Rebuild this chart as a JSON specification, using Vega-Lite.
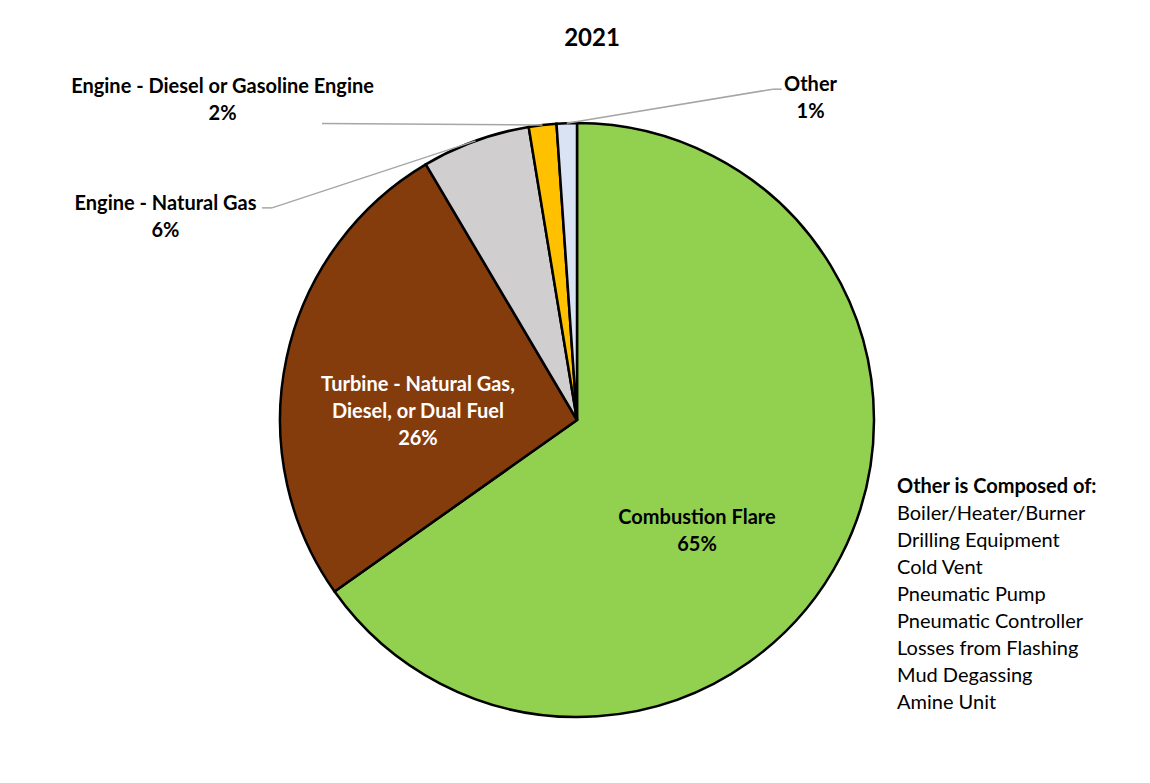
{
  "$schema": "https://vega.github.io/schema/vega-lite/v6.json",
  "width": 594,
  "height": 594,
  "autosize": {"type": "none"},
  "padding": {"left": 280, "top": 123, "right": 276, "bottom": 66},
  "background": "white",
  "config": {"view": {"stroke": null}, "font": "Lato"},
  "title": {"text": "2021", "fontSize": 24, "font": "Lato", "fontWeight": "bold", "color": "black", "anchor": "middle", "offset": 24, "dx": 15},
  "layer": [
    {
      "data": {"values": [
        {"source": "Combustion Flare", "label": "Combustion Flare", "value": 65.2},
        {"source": "Turbine - Natural Gas, Diesel, or Dual Fuel", "label": "Turbine - Natural Gas,\nDiesel, or Dual Fuel", "value": 26.3},
        {"source": "Engine - Natural Gas", "label": "Engine - Natural Gas", "value": 5.9},
        {"source": "Engine - Diesel or Gasoline Engine", "label": "Engine - Diesel or Gasoline Engine", "value": 1.5},
        {"source": "Other", "label": "Other", "value": 1.1}
      ]},
      "transform": [
        {"joinaggregate": [{"op": "sum", "field": "value", "as": "total"}]},
        {"window": [{"op": "sum", "field": "value", "as": "cum"}], "sort": [{"field": "value", "order": "descending"}], "frame": [null, 0]},
        {"calculate": "2 * PI * (datum.cum - datum.value / 2) / datum.total", "as": "mid"},
        {"calculate": "sin(datum.mid)", "as": "px"},
        {"calculate": "cos(datum.mid)", "as": "py"},
        {"calculate": "datum.label + '\\n' + round(datum.value) + '%'", "as": "text"}
      ],
      "layer": [
        {
          "mark": {"type": "arc", "stroke": "black", "strokeWidth": 2.5},
          "encoding": {
            "theta": {"field": "value", "type": "quantitative", "stack": true},
            "order": {"field": "value", "type": "quantitative", "sort": "descending"},
            "color": {"field": "source", "type": "nominal", "legend": null,
              "scale": {"domain": ["Combustion Flare", "Turbine - Natural Gas, Diesel, or Dual Fuel", "Engine - Natural Gas", "Engine - Diesel or Gasoline Engine", "Other"],
                        "range": ["#92D050", "#843C0C", "#D0CECE", "#FFC000", "#DAE3F3"]}}
          }
        },
        {
          "transform": [{"filter": "datum.source === 'Engine - Natural Gas'"}],
          "mark": {"type": "rule", "color": "#A6A6A6", "strokeWidth": 1.5, "x2Offset": -203.5, "y2Offset": 67},
          "encoding": {
            "x": {"field": "px", "type": "quantitative", "scale": {"domain": [-1, 1], "nice": false}, "axis": null},
            "y": {"field": "py", "type": "quantitative", "scale": {"domain": [-1, 1], "nice": false}, "axis": null},
            "x2": {"field": "px"}, "y2": {"field": "py"}
          }
        },
        {
          "transform": [{"filter": "datum.source === 'Engine - Natural Gas'"}],
          "mark": {"type": "rule", "color": "#A6A6A6", "strokeWidth": 1.5, "xOffset": -203.5, "yOffset": 67, "x2Offset": -213.5, "y2Offset": 67},
          "encoding": {
            "x": {"field": "px", "type": "quantitative", "scale": {"domain": [-1, 1], "nice": false}, "axis": null},
            "y": {"field": "py", "type": "quantitative", "scale": {"domain": [-1, 1], "nice": false}, "axis": null},
            "x2": {"field": "px"}, "y2": {"field": "py"}
          }
        },
        {
          "transform": [{"filter": "datum.source === 'Engine - Diesel or Gasoline Engine'"}],
          "mark": {"type": "rule", "color": "#A6A6A6", "strokeWidth": 1.5, "x2Offset": -220.6, "y2Offset": -1.5},
          "encoding": {
            "x": {"field": "px", "type": "quantitative", "scale": {"domain": [-1, 1], "nice": false}, "axis": null},
            "y": {"field": "py", "type": "quantitative", "scale": {"domain": [-1, 1], "nice": false}, "axis": null},
            "x2": {"field": "px"}, "y2": {"field": "py"}
          }
        },
        {
          "transform": [{"filter": "datum.source === 'Other'"}],
          "mark": {"type": "rule", "color": "#A6A6A6", "strokeWidth": 1.5, "x2Offset": 206, "y2Offset": -34},
          "encoding": {
            "x": {"field": "px", "type": "quantitative", "scale": {"domain": [-1, 1], "nice": false}, "axis": null},
            "y": {"field": "py", "type": "quantitative", "scale": {"domain": [-1, 1], "nice": false}, "axis": null},
            "x2": {"field": "px"}, "y2": {"field": "py"}
          }
        },
        {
          "transform": [{"filter": "datum.source === 'Other'"}],
          "mark": {"type": "rule", "color": "#A6A6A6", "strokeWidth": 1.5, "xOffset": 206, "yOffset": -34, "x2Offset": 215, "y2Offset": -34},
          "encoding": {
            "x": {"field": "px", "type": "quantitative", "scale": {"domain": [-1, 1], "nice": false}, "axis": null},
            "y": {"field": "py", "type": "quantitative", "scale": {"domain": [-1, 1], "nice": false}, "axis": null},
            "x2": {"field": "px"}, "y2": {"field": "py"}
          }
        },
        {
          "transform": [{"filter": "datum.source === 'Combustion Flare'"}],
          "mark": {"type": "text", "lineBreak": "\n", "lineHeight": 27, "fontSize": 20, "fontWeight": "bold", "font": "Lato", "align": "center", "baseline": "middle", "color": "black", "dx": -143.8, "dy": -38},
          "encoding": {
            "x": {"field": "px", "type": "quantitative", "scale": {"domain": [-1, 1], "nice": false}, "axis": null},
            "y": {"field": "py", "type": "quantitative", "scale": {"domain": [-1, 1], "nice": false}, "axis": null},
            "text": {"field": "text"}
          }
        },
        {
          "transform": [{"filter": "datum.source === 'Turbine - Natural Gas, Diesel, or Dual Fuel'"}],
          "mark": {"type": "text", "lineBreak": "\n", "lineHeight": 27, "fontSize": 20, "fontWeight": "bold", "font": "Lato", "align": "center", "baseline": "middle", "color": "white", "dx": 131.4, "dy": 27},
          "encoding": {
            "x": {"field": "px", "type": "quantitative", "scale": {"domain": [-1, 1], "nice": false}, "axis": null},
            "y": {"field": "py", "type": "quantitative", "scale": {"domain": [-1, 1], "nice": false}, "axis": null},
            "text": {"field": "text"}
          }
        },
        {
          "transform": [{"filter": "datum.source === 'Engine - Natural Gas'"}],
          "mark": {"type": "text", "lineBreak": "\n", "lineHeight": 27, "fontSize": 20, "fontWeight": "bold", "font": "Lato", "align": "center", "baseline": "middle", "color": "black", "dx": -310, "dy": 63.6},
          "encoding": {
            "x": {"field": "px", "type": "quantitative", "scale": {"domain": [-1, 1], "nice": false}, "axis": null},
            "y": {"field": "py", "type": "quantitative", "scale": {"domain": [-1, 1], "nice": false}, "axis": null},
            "text": {"field": "text"}
          }
        },
        {
          "transform": [{"filter": "datum.source === 'Engine - Diesel or Gasoline Engine'"}],
          "mark": {"type": "text", "lineBreak": "\n", "lineHeight": 27, "fontSize": 20, "fontWeight": "bold", "font": "Lato", "align": "center", "baseline": "middle", "color": "black", "dx": -320, "dy": -38.5},
          "encoding": {
            "x": {"field": "px", "type": "quantitative", "scale": {"domain": [-1, 1], "nice": false}, "axis": null},
            "y": {"field": "py", "type": "quantitative", "scale": {"domain": [-1, 1], "nice": false}, "axis": null},
            "text": {"field": "text"}
          }
        },
        {
          "transform": [{"filter": "datum.source === 'Other'"}],
          "mark": {"type": "text", "lineBreak": "\n", "lineHeight": 27, "fontSize": 20, "fontWeight": "bold", "font": "Lato", "align": "center", "baseline": "middle", "color": "black", "dx": 243.8, "dy": -37.7},
          "encoding": {
            "x": {"field": "px", "type": "quantitative", "scale": {"domain": [-1, 1], "nice": false}, "axis": null},
            "y": {"field": "py", "type": "quantitative", "scale": {"domain": [-1, 1], "nice": false}, "axis": null},
            "text": {"field": "text"}
          }
        }
      ]
    },
    {
      "data": {"values": [
        {"item": "Boiler/Heater/Burner"},
        {"item": "Drilling Equipment"},
        {"item": "Cold Vent"},
        {"item": "Pneumatic Pump"},
        {"item": "Pneumatic Controller"},
        {"item": "Losses from Flashing"},
        {"item": "Mud Degassing"},
        {"item": "Amine Unit"}
      ]},
      "mark": {"type": "point", "opacity": 0},
      "encoding": {
        "shape": {"field": "item", "type": "nominal", "sort": null,
          "legend": {"title": "Other is Composed of:", "orient": "none", "legendX": 617, "legendY": 354,
            "titleFont": "Lato", "titleFontSize": 20, "titleFontWeight": "bold", "titleColor": "black", "titlePadding": 7, "titleLimit": 400,
            "labelFont": "Lato", "labelFontSize": 20, "labelColor": "black", "labelLimit": 400, "labelOffset": -20,
            "symbolSize": 0, "symbolOpacity": 0, "symbolStrokeWidth": 0, "rowPadding": 7, "padding": 0}}
      }
    }
  ]
}
